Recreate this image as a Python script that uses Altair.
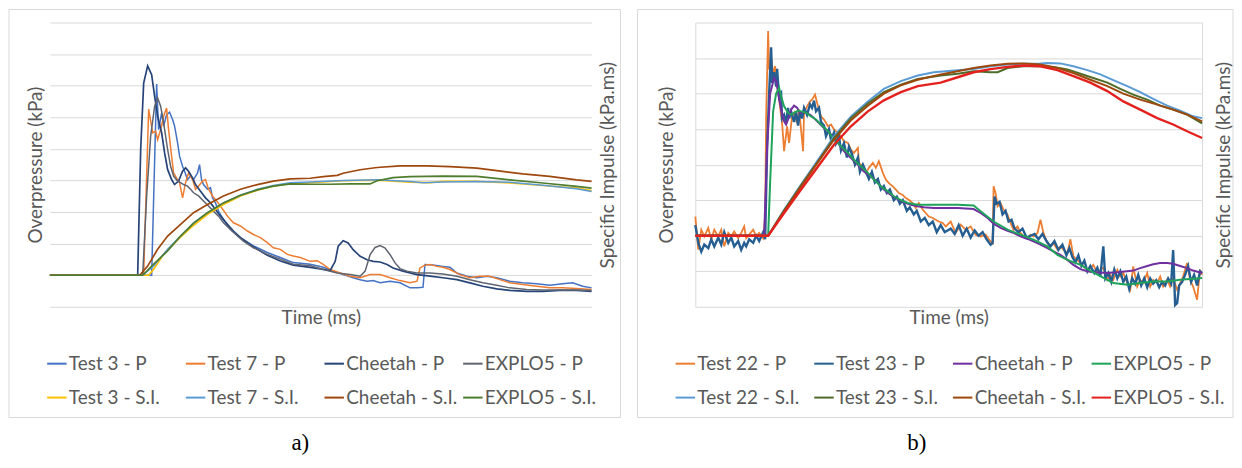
import altair as alt
import pandas as pd

FONT = "Lato"
GRID = "#d9d9d9"
TXT = "#595959"

# ---------------- Panel a) ----------------
A_NAMES = ["Test 3 - P", "Test 7 - P", "Cheetah - P", "EXPLO5 - P",
           "Test 3 - S.I.", "Test 7 - S.I.", "Cheetah - S.I.", "EXPLO5 - S.I."]
A_COLORS = ["#4472C4", "#ED7D31", "#264478", "#5E6470",
            "#FFC000", "#5B9BD5", "#9E480E", "#4E7D2E"]
A_WIDTHS = [1.5, 1.5, 1.7, 1.5, 1.7, 1.5, 1.7, 1.7]

A_T3_P = [(0, 0), (102, 0), (107, 6.05), (109, 4.61), (112, 5.14), (114, 4.72), (117, 5.08), (120, 5.16),
          (123, 4.93), (125, 4.72), (128, 4.19), (130, 3.77), (133, 3.45), (135, 3.29), (138, 3.03),
          (141, 3.14), (144, 3.03), (148, 3.24), (150, 3.5), (152, 3.03), (154, 2.87), (158, 2.72),
          (161, 2.77), (163, 2.45), (166, 2.29), (169, 2.03), (174, 1.77), (181, 1.45), (191, 1.19),
          (204, 0.93), (218, 0.72), (231, 0.56), (244, 0.4), (261, 0.35), (274, 0.25), (284, 0.13),
          (294, 0.02), (304, -0.08), (311, -0.14), (318, -0.19), (324, -0.17), (331, -0.24), (341, -0.19),
          (351, -0.24), (361, -0.4), (368, -0.4), (374, -0.38), (376, 0.34), (384, 0.32), (394, 0.28),
          (401, 0.25), (408, 0.07), (418, -0.03), (428, -0.08), (438, -0.03), (448, -0.08), (461, -0.19),
          (474, -0.24), (488, -0.27), (501, -0.32), (514, -0.27), (524, -0.24), (534, -0.35), (543, -0.4)]
A_T7_P = [(0, 0), (94, 0), (99, 5.26), (103, 4.51), (106, 4.56), (108, 4.29), (111, 4.61), (114, 5.03),
          (117, 5.29), (119, 4.61), (122, 3.77), (124, 3.24), (128, 3.03), (130, 2.93), (133, 2.45),
          (136, 2.93), (139, 3.24), (143, 3.03), (146, 2.72), (149, 2.82), (153, 2.98), (156, 3.03),
          (159, 2.72), (163, 2.51), (166, 2.4), (171, 2.19), (178, 1.87), (184, 1.66), (191, 1.56),
          (198, 1.4), (204, 1.29), (211, 1.19), (218, 1.03), (224, 0.87), (231, 0.82), (238, 0.66),
          (244, 0.61), (251, 0.56), (261, 0.44), (268, 0.46), (274, 0.34), (281, 0.18), (291, 0.07),
          (301, -0.03), (311, -0.08), (321, 0.02), (331, 0.02), (341, -0.08), (351, -0.17), (361, -0.24),
          (368, -0.19), (371, 0.23), (376, 0.32), (381, 0.34), (388, 0.28), (394, 0.25), (401, 0.18),
          (411, 0.02), (421, -0.08), (431, -0.03), (441, -0.03), (451, -0.14), (461, -0.24), (474, -0.29),
          (488, -0.35), (501, -0.4), (514, -0.4), (528, -0.42), (543, -0.45)]
A_CH_P = [(0, 0), (88, 0), (91, 3.98), (94, 6.08), (98, 6.63), (102, 6.35), (105, 5.66), (108, 5.03),
          (112, 4.51), (115, 3.87), (118, 3.35), (122, 3.03), (125, 2.87), (129, 2.98), (133, 3.29),
          (136, 3.4), (139, 3.29), (143, 3.08), (146, 2.87), (151, 2.66), (156, 2.45), (161, 2.29),
          (166, 2.08), (171, 1.87), (178, 1.61), (184, 1.4), (191, 1.19), (198, 1.03), (208, 0.82),
          (218, 0.63), (231, 0.45), (244, 0.32), (261, 0.25), (271, 0.2), (281, 0.15), (286, 0.44),
          (289, 0.92), (294, 1.09), (299, 1.02), (304, 0.81), (311, 0.6), (318, 0.49), (324, 0.44),
          (331, 0.42), (338, 0.34), (344, 0.23), (354, 0.13), (368, 0.02), (381, -0.03), (394, -0.08),
          (408, -0.14), (421, -0.24), (434, -0.35), (448, -0.43), (461, -0.48), (478, -0.51), (494, -0.51),
          (511, -0.48), (528, -0.48), (543, -0.51)]
A_EX_P = [(0, 0), (93, 0), (97, 2.5), (101, 4.4), (105, 5.35), (108, 5.61), (111, 5.35), (114, 4.82),
          (118, 3.98), (121, 3.45), (124, 3.14), (128, 2.98), (131, 2.93), (134, 2.87), (138, 2.82),
          (141, 2.72), (144, 2.61), (149, 2.51), (154, 2.35), (159, 2.19), (164, 2.03), (169, 1.87),
          (174, 1.66), (181, 1.45), (188, 1.24), (194, 1.08), (204, 0.87), (218, 0.66), (231, 0.51),
          (244, 0.35), (261, 0.3), (274, 0.18), (288, 0.07), (301, 0.02), (311, -0.03), (316, 0.13),
          (321, 0.65), (326, 0.88), (331, 0.94), (336, 0.86), (341, 0.65), (346, 0.39), (351, 0.21),
          (358, 0.13), (368, 0.07), (381, 0.07), (394, 0.04), (408, -0.03), (421, -0.14), (434, -0.24),
          (448, -0.32), (461, -0.4), (478, -0.45), (494, -0.47), (511, -0.47), (528, -0.47), (543, -0.48)]
A_T3_SI = [(0, 0), (99, 0), (104, 0.19), (114, 0.66), (128, 1.12), (141, 1.5), (158, 1.93), (174, 2.24),
           (191, 2.51), (208, 2.69), (224, 2.82), (241, 2.91), (261, 2.93), (294, 2.99), (328, 3.01),
           (361, 2.95), (381, 2.93), (394, 2.97), (428, 2.97), (461, 2.92), (494, 2.84), (528, 2.76), (543, 2.68)]
A_T7_SI = [(0, 0), (93, 0), (104, 0.29), (118, 0.82), (131, 1.24), (144, 1.66), (158, 1.98), (174, 2.29),
           (191, 2.53), (208, 2.72), (224, 2.84), (241, 2.93), (261, 2.95), (294, 3.0), (328, 3.02),
           (361, 2.97), (374, 2.93), (394, 2.95), (428, 2.97), (461, 2.94), (494, 2.85), (528, 2.74), (543, 2.65)]
A_CH_SI = [(0, 0), (90, 0), (98, 0.29), (108, 0.82), (118, 1.24), (131, 1.61), (144, 1.98), (158, 2.24),
           (174, 2.51), (191, 2.72), (208, 2.87), (224, 2.98), (241, 3.05), (261, 3.07), (274, 3.12),
           (288, 3.16), (294, 3.23), (311, 3.34), (328, 3.41), (351, 3.46), (378, 3.46), (401, 3.44),
           (428, 3.39), (448, 3.31), (474, 3.21), (501, 3.13), (528, 3.02), (543, 2.97)]
A_EX_SI = [(0, 0), (93, 0), (104, 0.35), (118, 0.77), (131, 1.24), (144, 1.64), (158, 1.98), (174, 2.29),
           (191, 2.53), (208, 2.7), (224, 2.82), (241, 2.89), (261, 2.88), (281, 2.88), (301, 2.89),
           (321, 2.89), (328, 2.99), (344, 3.09), (361, 3.12), (394, 3.14), (428, 3.13), (461, 3.02),
           (494, 2.92), (528, 2.81), (543, 2.76)]

# ---------------- Panel b) ----------------
B_NAMES = ["Test 22 - P", "Test 23 - P", "Cheetah - P", "EXPLO5 - P",
           "Test 22 - S.I.", "Test 23 - S.I.", "Cheetah - S.I.", "EXPLO5 - S.I."]
B_COLORS = ["#ED7D31", "#255E91", "#7030A0", "#1FA35A",
            "#5B9BD5", "#4F6B2A", "#9E480E", "#E3211E"]
B_WIDTHS = [1.8, 2.4, 2.0, 2.0, 2.0, 2.0, 2.0, 2.4]

B_T22_P = [(0, 0.54), (3, -0.39), (6, 0.17), (9, -0.02), (13, 0.22), (16, -0.11), (19, 0.17), (23, -0.02),
           (26, 0.17), (29, -0.3), (33, 0.08), (36, -0.02), (39, 0.12), (43, -0.07), (46, 0.08), (49, 0.26),
           (51, -0.07), (54, 0.03), (58, 0.17), (61, -0.02), (64, 0.08), (68, -0.07), (70, 0.54), (71, 3.36),
           (73, 5.76), (74, 4.68), (76, 5.05), (78, 4.54), (80, 4.77), (82, 4.31), (84, 3.83), (87, 3.17),
           (89, 2.38), (92, 3.08), (94, 2.61), (97, 3.36), (99, 3.46), (102, 3.17), (104, 3.55), (107, 2.7),
           (108, 2.38), (109, 3.46), (112, 3.64), (115, 3.78), (117, 3.83), (120, 3.97), (123, 3.64),
           (126, 3.36), (129, 3.27), (133, 3.08), (136, 3.13), (139, 2.99), (143, 2.89), (146, 2.8),
           (149, 2.66), (153, 2.61), (156, 2.42), (159, 2.33), (163, 2.47), (164, 2.05), (168, 1.95),
           (171, 1.77), (174, 1.91), (178, 2.05), (181, 1.91), (184, 2.1), (188, 1.77), (191, 1.58),
           (194, 1.48), (198, 1.39), (201, 1.3), (204, 1.2), (208, 1.15), (211, 1.06), (214, 1.01),
           (218, 0.92), (221, 0.78), (224, 0.92), (228, 0.73), (231, 0.64), (234, 0.54), (238, 0.5),
           (241, 0.45), (244, 0.4), (248, 0.36), (251, 0.26), (256, 0.4), (261, 0.08), (266, 0.31),
           (271, 0.17), (276, 0.26), (281, 0.03), (286, -0.02), (291, 0.03), (296, -0.16), (298, -0.21),
           (299, 1.39), (301, 1.2), (303, 0.83), (306, 0.92), (309, 0.73), (313, 0.59), (316, 0.36),
           (319, 0.17), (323, 0.26), (326, 0.08), (329, -0.02), (333, -0.07), (336, 0.03), (339, -0.02),
           (343, 0.08), (346, 0.45), (349, 0.08), (353, -0.21), (356, -0.3), (359, -0.21), (363, -0.39),
           (366, -0.3), (369, -0.39), (373, -0.49), (376, -0.1), (379, -0.58), (383, -0.68), (386, -0.77),
           (389, -0.86), (393, -0.96), (396, -0.91), (399, -0.82), (403, -1.05), (406, -0.96), (409, -0.9),
           (413, -1.24), (416, -1.1), (419, -1.24), (423, -0.96), (426, -1.15), (429, -1.05), (433, -1.33),
           (436, -1.52), (439, -0.86), (443, -1.43), (446, -1.24), (449, -1.33), (453, -1.05), (456, -1.43),
           (459, -1.24), (463, -1.33), (466, -1.15), (469, -1.43), (473, -1.24), (476, -1.43), (479, -1.2),
           (483, -1.52), (486, -1.33), (489, -1.15), (493, -0.77), (496, -1.24), (499, -1.43), (503, -1.8),
           (506, -0.96), (508, -1.1)]
B_T23_P = [(0, 0.3), (3, -0.2), (6, -0.45), (9, -0.25), (13, -0.35), (16, -0.1), (19, -0.3), (23, -0.05),
           (26, -0.25), (29, 0.1), (33, -0.2), (36, -0.05), (39, -0.3), (43, -0.15), (46, -0.4), (49, -0.2),
           (51, -0.3), (54, -0.1), (58, -0.2), (61, 0.0), (64, -0.15), (68, 0.1), (70, -0.1), (72, 2.5),
           (74, 4.0), (76, 5.3), (77, 4.3), (79, 4.6), (81, 4.2), (82, 4.7), (84, 3.9), (86, 4.0), (87, 3.3),
           (89, 3.4), (91, 3.2), (93, 3.6), (94, 3.3), (96, 3.5), (99, 3.2), (101, 3.5), (103, 3.1),
           (105, 3.5), (107, 3.3), (109, 3.6), (112, 3.4), (115, 3.7), (117, 3.6), (119, 3.8), (121, 3.5),
           (124, 3.6), (126, 3.2), (129, 3.1), (131, 2.8), (134, 3.0), (136, 2.7), (139, 2.9), (141, 2.6),
           (144, 2.8), (146, 2.4), (149, 2.6), (152, 2.2), (154, 2.5), (157, 2.3), (160, 2.0), (163, 2.2),
           (165, 1.8), (168, 2.0), (171, 1.8), (174, 1.6), (177, 1.8), (180, 1.5), (183, 1.6), (186, 1.3),
           (189, 1.4), (192, 1.2), (195, 1.3), (199, 1.0), (202, 1.1), (205, 0.9), (208, 1.0), (212, 0.7),
           (215, 0.8), (219, 0.6), (222, 0.7), (226, 0.4), (230, 0.5), (234, 0.3), (238, 0.4), (242, 0.1),
           (246, 0.3), (250, 0.1), (256, 0.2), (260, 0.05), (264, 0.3), (268, 0.0), (272, 0.2), (276, -0.05),
           (280, 0.15), (284, 0.0), (288, 0.1), (292, -0.1), (296, -0.25), (298, -0.2), (300, 1.1),
           (302, 0.9), (305, 0.95), (308, 0.6), (311, 0.7), (314, 0.4), (317, 0.45), (320, 0.2), (324, 0.1),
           (328, 0.2), (332, -0.05), (336, 0.0), (340, 0.05), (344, -0.1), (348, 0.05), (352, -0.15),
           (356, -0.3), (360, -0.15), (364, -0.4), (368, -0.25), (372, -0.55), (375, -0.35), (378, -0.6),
           (381, -0.75), (384, -0.55), (387, -0.85), (390, -0.7), (393, -1.0), (396, -0.85), (400, -1.05),
           (403, -0.9), (406, -1.15), (409, -0.3), (411, -1.2), (414, -1.05), (417, -1.3), (420, -0.95),
           (423, -1.2), (426, -1.0), (429, -1.3), (432, -1.15), (435, -1.5), (438, -1.2), (441, -1.35),
           (444, -1.1), (447, -1.4), (450, -1.2), (453, -1.45), (456, -1.2), (459, -1.35), (462, -1.25),
           (465, -1.45), (468, -1.3), (471, -1.4), (474, -1.2), (477, -1.35), (479, -0.4), (481, -1.95),
           (483, -1.9), (485, -1.4), (488, -1.3), (491, -1.1), (494, -0.85), (497, -1.3), (500, -1.1),
           (503, -1.4), (506, -1.0), (508, -1.05)]
B_CH_P = [(0, 0), (69, 0), (72, 2.5), (75, 4.0), (79, 4.44), (81, 4.35), (83, 4.02), (86, 3.55), (89, 3.22),
          (91, 3.13), (93, 3.27), (96, 3.55), (99, 3.66), (102, 3.6), (105, 3.46), (109, 3.47), (115, 3.41),
          (119, 3.31), (124, 3.17), (129, 3.03), (136, 2.85), (143, 2.61), (149, 2.38), (156, 2.19),
          (163, 2.0), (169, 1.81), (176, 1.67), (183, 1.48), (189, 1.3), (196, 1.15), (203, 1.03),
          (209, 0.94), (216, 0.87), (223, 0.83), (229, 0.8), (239, 0.78), (263, 0.78), (279, 0.75),
          (286, 0.64), (293, 0.5), (299, 0.34), (306, 0.22), (313, 0.14), (319, 0.08), (326, -0.02),
          (333, -0.09), (339, -0.16), (346, -0.25), (353, -0.35), (359, -0.44), (366, -0.54), (373, -0.68),
          (379, -0.82), (386, -0.94), (393, -1.0), (399, -1.03), (413, -1.05), (423, -1.03), (433, -1.0),
          (439, -0.98), (446, -0.91), (453, -0.85), (459, -0.8), (466, -0.77), (473, -0.77), (479, -0.79),
          (486, -0.85), (493, -0.91), (499, -0.98), (508, -1.05)]
B_EX_P = [(0, 0), (73, 0), (75, 1.5), (78, 3.5), (81, 4.0), (84, 4.16), (86, 3.92), (89, 3.64), (93, 3.46),
          (96, 3.41), (99, 3.46), (103, 3.52), (106, 3.5), (111, 3.46), (116, 3.36), (121, 3.27),
          (126, 3.13), (133, 2.94), (139, 2.72), (146, 2.52), (153, 2.33), (159, 2.14), (166, 1.95),
          (173, 1.77), (179, 1.58), (186, 1.39), (193, 1.25), (199, 1.11), (206, 1.0), (213, 0.92),
          (223, 0.87), (263, 0.87), (279, 0.85), (286, 0.69), (299, 0.4), (313, 0.17), (326, 0.03),
          (339, -0.11), (353, -0.3), (363, -0.54), (373, -0.68), (386, -0.82), (399, -1.03), (413, -1.24),
          (419, -1.33), (433, -1.38), (446, -1.33), (459, -1.29), (473, -1.29), (486, -1.24), (508, -1.19)]
B_T22_SI = [(0, 0), (73, 0), (89, 0.73), (106, 1.44), (123, 2.14), (139, 2.8), (156, 3.36), (173, 3.78),
            (189, 4.13), (206, 4.35), (223, 4.51), (239, 4.6), (263, 4.66), (279, 4.69), (296, 4.77),
            (313, 4.82), (329, 4.84), (346, 4.85), (353, 4.86), (366, 4.85), (379, 4.77), (393, 4.66),
            (406, 4.54), (419, 4.38), (433, 4.21), (446, 4.04), (459, 3.85), (473, 3.66), (486, 3.52),
            (499, 3.36), (508, 3.31)]
B_T23_SI = [(0, 0), (73, 0), (89, 0.71), (106, 1.41), (123, 2.09), (139, 2.75), (156, 3.31), (173, 3.72),
            (189, 4.04), (206, 4.25), (223, 4.41), (246, 4.51), (263, 4.56), (279, 4.63), (296, 4.6),
            (303, 4.6), (313, 4.72), (329, 4.77), (346, 4.77), (359, 4.75), (373, 4.68), (386, 4.56),
            (399, 4.44), (413, 4.31), (426, 4.13), (439, 3.97), (453, 3.83), (466, 3.66), (479, 3.55),
            (493, 3.41), (508, 3.16)]
B_CH_SI = [(0, 0), (73, 0), (89, 0.69), (106, 1.39), (123, 2.07), (139, 2.7), (156, 3.25), (173, 3.66),
           (189, 4.0), (206, 4.23), (223, 4.39), (246, 4.54), (263, 4.63), (279, 4.72), (296, 4.79),
           (313, 4.84), (329, 4.85), (346, 4.82), (363, 4.72), (379, 4.58), (396, 4.39), (413, 4.21),
           (429, 4.0), (446, 3.83), (463, 3.69), (479, 3.55), (493, 3.41), (508, 3.22)]
B_EX_SI = [(0, 0), (73, 0), (89, 0.64), (106, 1.3), (123, 1.95), (139, 2.56), (156, 3.08), (173, 3.5),
           (189, 3.81), (206, 4.04), (223, 4.21), (246, 4.31), (263, 4.46), (279, 4.6), (296, 4.69),
           (313, 4.75), (329, 4.79), (346, 4.77), (363, 4.66), (379, 4.49), (396, 4.31), (413, 4.07),
           (429, 3.78), (446, 3.55), (463, 3.31), (479, 3.13), (493, 2.94), (508, 2.75)]

A_SERIES = [A_T3_P, A_T7_P, A_CH_P, A_EX_P, A_T3_SI, A_T7_SI, A_CH_SI, A_EX_SI]
B_SERIES = [B_T22_P, B_T23_P, B_CH_P, B_EX_P, B_T22_SI, B_T23_SI, B_CH_SI, B_EX_SI]

# legend fills column by column (2 rows): interleave so rows read P then S.I.
LEGEND_ORDER = [0, 4, 1, 5, 2, 6, 3, 7]


def build_panel(names, colors, widths, series, t_dom, y_dom, w, h, frame_box,
                leg_x, leg_y, cap_text, cap_x, cap_y, lt_pad, rt_pad, side_lines):
    cscale = alt.Scale(domain=[names[k] for k in LEGEND_ORDER], range=[colors[k] for k in LEGEND_ORDER])
    legend = alt.Legend(title=None, orient="none", legendX=leg_x, legendY=leg_y, columns=4,
                        symbolType="stroke", symbolSize=380, symbolStrokeWidth=2,
                        labelFont=FONT, labelFontSize=19, labelColor=TXT, labelOffset=1,
                        columnPadding=1, rowPadding=13, gridAlign="all", labelLimit=250)
    x_enc = alt.X("t:Q", scale=alt.Scale(domain=t_dom, nice=False, zero=False),
                  axis=alt.Axis(title="Time (ms)", labels=False, ticks=False, domain=False, grid=False,
                                titleFont=FONT, titleFontSize=19, titleFontWeight="normal",
                                titleColor=TXT, titlePadding=2))
    yticks = list(range(int(y_dom[0]), int(y_dom[1]) + 1))
    left_axis = alt.Axis(orient="left", title="Overpressure (kPa)", values=yticks, labels=False,
                         ticks=False, domain=side_lines, domainColor=GRID, grid=True, gridColor=GRID,
                         titleFont=FONT, titleFontSize=19, titleFontWeight="normal", titleColor=TXT,
                         titlePadding=lt_pad)
    right_axis = alt.Axis(orient="right", title="Specific Impulse (kPa.ms)", labels=False, ticks=False,
                          domain=side_lines, domainColor=GRID, grid=False, titleAngle=270,
                          titleBaseline="top", titleFont=FONT, titleFontSize=19,
                          titleFontWeight="normal", titleColor=TXT, titlePadding=rt_pad)
    yscale = alt.Scale(domain=y_dom, nice=False, zero=False)
    p_layers, s_layers = [], []
    for i, name in enumerate(names):
        pts = series[i]
        df = pd.DataFrame({"t": [p[0] for p in pts], "v": [p[1] for p in pts], "series": name})
        y_enc = alt.Y("v:Q", scale=yscale, axis=left_axis if i < 4 else right_axis)
        lay = alt.Chart(df).mark_line(strokeWidth=widths[i]).encode(
            x=x_enc, y=y_enc, color=alt.Color("series:N", scale=cscale, legend=legend))
        (p_layers if i < 4 else s_layers).append(lay)
    one = pd.DataFrame({"k": [0]})
    x0, x1, y0, y1 = frame_box
    frame = alt.Chart(one).mark_rect(fill="transparent", stroke=GRID, strokeWidth=1).encode(
        x=alt.value(x0), x2=alt.value(x1), y=alt.value(y0), y2=alt.value(y1))
    cap = alt.Chart(one).mark_text(text=cap_text, font="Liberation Serif", fontSize=23, color="black",
                                   align="center", baseline="middle").encode(
        x=alt.value(cap_x), y=alt.value(cap_y))
    return alt.layer(frame, cap, alt.layer(*p_layers), alt.layer(*s_layers)).resolve_scale(
        y="independent").properties(width=w, height=h)


panel_a = build_panel(A_NAMES, A_COLORS, A_WIDTHS, A_SERIES, [0, 543], [-1, 8], 543, 285,
                      (-41, 572, -13, 396), -4, 331, "a)", 251, 422, 4, 7, False)
panel_b = build_panel(B_NAMES, B_COLORS, B_WIDTHS, B_SERIES, [0, 508], [-2, 6], 508, 285,
                      (-58, 539, -13, 396), -21, 331, "b)", 222, 422, 19, 12, True)

chart = alt.hconcat(panel_a, panel_b, spacing=15).resolve_scale(color="independent").configure_view(
    stroke=None).properties(padding={"left": 0, "top": 0, "right": 0, "bottom": 0}, background="white")

chart.save("out.html", embed_options={"renderer": "svg", "actions": False})
